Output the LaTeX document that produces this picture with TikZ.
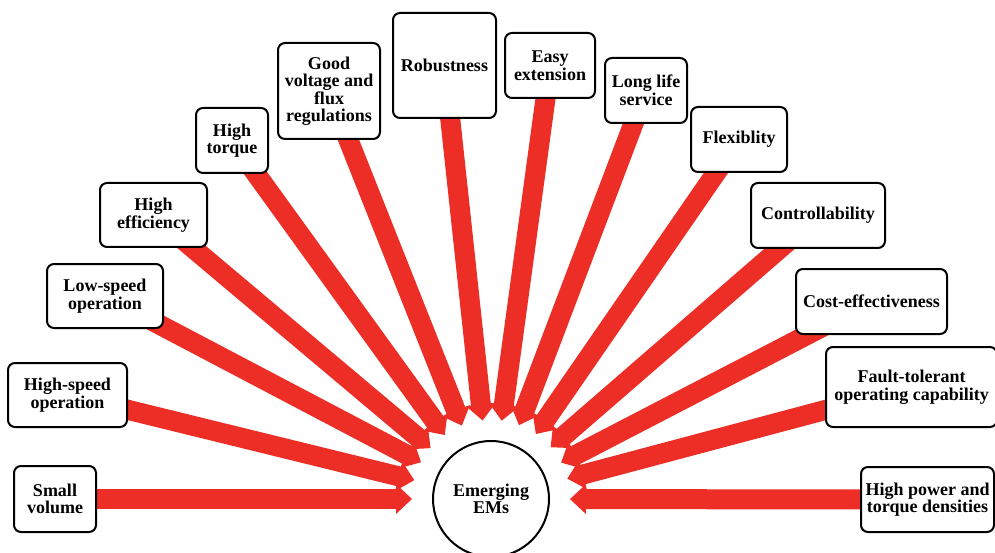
\documentclass[tikz,border=0pt]{standalone}
\usepackage{fontspec}
\setmainfont{Liberation Serif}
\usetikzlibrary{calc}
\definecolor{arrred}{RGB}{236,46,38}
\pgfdeclarelayer{bg}
\pgfsetlayers{bg,main}
\begin{document}
\begin{tikzpicture}[x=1pt,y=-1pt,
  box/.style={draw=black, line width=2pt, rounded corners=7pt, fill=white,
    align=center, inner sep=0pt, font=\fontsize{18}{17.5}\selectfont\bfseries},
  hub/.style={draw=black, line width=2pt, circle, fill=white, minimum size=116pt,
    inner sep=0pt, align=center, font=\fontsize{18}{17.5}\selectfont\bfseries},
  shaft/.style={draw=arrred, line width=20pt},
  head/.style={fill=arrred}]
\useasboundingbox (0,0) rectangle (995,553);

\node[hub] (c) at (491,499) {Emerging\\EMs};

\node[box, minimum width=82pt,  minimum height=66pt]  (b1)  at (55,499)    {Small\\volume};
\node[box, minimum width=119pt, minimum height=64pt]  (b2)  at (67.5,395)  {High-speed\\operation};
\node[box, minimum width=116pt, minimum height=64pt]  (b3)  at (105,296)   {Low-speed\\operation};
\node[box, minimum width=107pt, minimum height=64pt]  (b4)  at (153.5,215) {High\\efficiency};
\node[box, minimum width=72pt,  minimum height=65pt]  (b5)  at (232,140.5) {High\\torque};
\node[box, minimum width=102pt, minimum height=96pt]  (b6)  at (329,91)    {Good\\voltage and\\flux\\regulations};
\node[box, minimum width=103pt, minimum height=105pt] (b7)  at (444.5,65.5) {Robustness};
\node[box, minimum width=90pt,  minimum height=65pt]  (b8)  at (550,65.5)  {Easy\\extension};
\node[box, minimum width=82pt,  minimum height=65pt]  (b9)  at (646,90.5)  {Long life\\service};
\node[box, minimum width=96pt,  minimum height=65pt]  (b10) at (739,139.5) {Flexiblity};
\node[box, minimum width=134pt, minimum height=65pt]  (b11) at (818,215.5) {Controllability};
\node[box, minimum width=151pt, minimum height=65pt]  (b12) at (871.5,301.5) {Cost-effectiveness};
\node[box, minimum width=171pt, minimum height=80pt]  (b13) at (911.5,387) {Fault-tolerant\\operating capability};
\node[box, minimum width=133pt, minimum height=65pt]  (b14) at (927.5,499.5) {High power and\\torque densities};

\begin{pgfonlayer}{bg}
\foreach \i in {1,...,14} {
  \coordinate (t\i) at ($(c.center)!79pt!(b\i.center)$);
  \coordinate (h\i) at ($(c.center)!95pt!(b\i.center)$);
  \coordinate (s\i) at ($(c.center)!93pt!(b\i.center)$);
  \draw[shaft] (b\i.center) -- (s\i);
  \fill[head] (t\i) -- ($(h\i)!15pt!90:(t\i)$) -- ($(h\i)!15pt!-90:(t\i)$) -- cycle;
}
\end{pgfonlayer}
\end{tikzpicture}
\end{document}
